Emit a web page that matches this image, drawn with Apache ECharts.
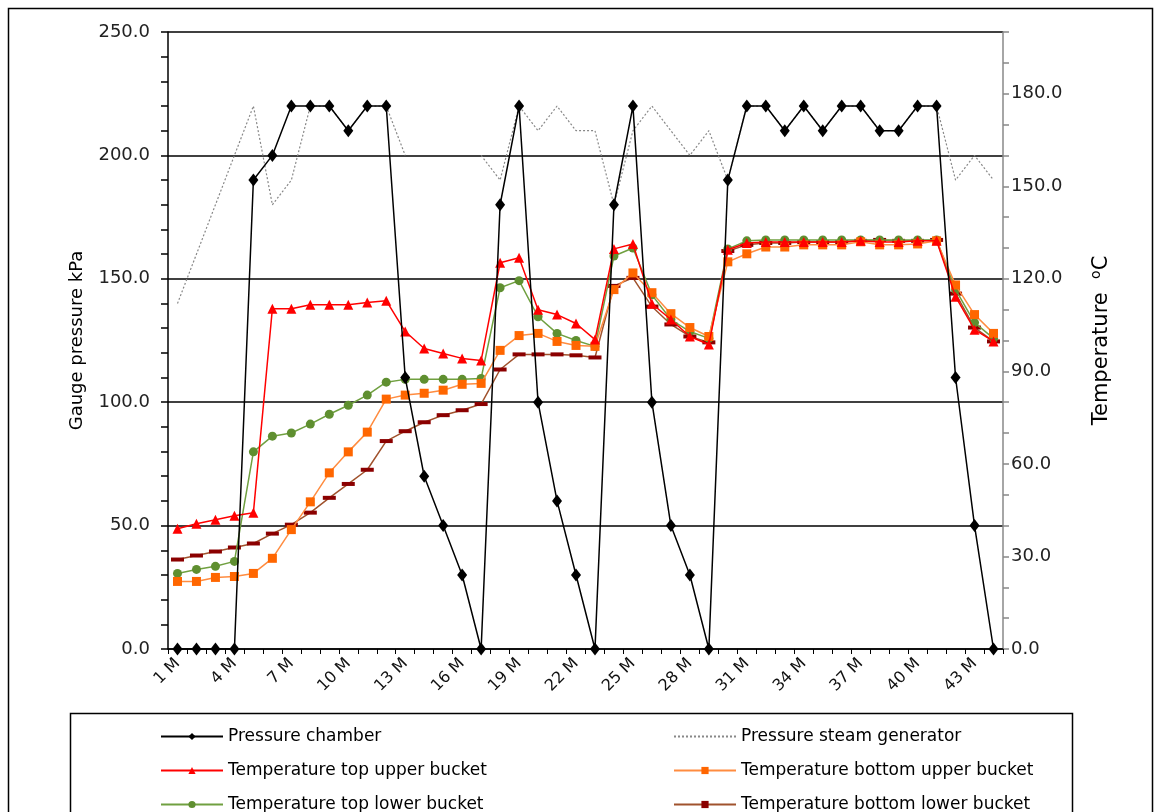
<!DOCTYPE html>
<html>
<head>
<meta charset="utf-8">
<script src="https://cdn.jsdelivr.net/npm/echarts@6/dist/echarts.min.js"></script>
<style>html,body{margin:0;padding:0;background:#fff;}#c{width:1161px;height:812px;}</style>
</head>
<body>
<div id="c"></div>
<script>
var categories = [];
for (var i = 1; i <= 44; i++) categories.push(i + ' M');

var pressureChamber = [0,0,0,0,190,200,220,220,220,210,220,220,110,70,50,30,0,180,220,100,60,30,0,180,220,100,50,30,0,190,220,220,210,220,210,220,220,210,210,220,220,110,50,0];
var pressureSteam = [140,160,180,200,220,180,190,220,220,210,220,220,200,null,null,null,200,190,220,210,220,210,210,180,210,220,210,200,210,190,220,220,210,220,210,220,220,210,210,220,220,190,200,190];
var tempTopUpper = [39.0,40.6,41.9,43.2,44.2,110.3,110.3,111.6,111.6,111.6,112.3,112.9,102.9,97.4,95.8,94.2,93.5,125.2,126.8,110.0,108.4,105.5,100.3,129.7,131.3,111.9,106.8,101.3,98.7,129.4,131.6,131.9,131.9,131.9,131.9,131.9,132.3,131.9,131.9,132.3,132.3,114.2,103.5,99.7];
var tempBottomUpper = [21.9,21.9,23.2,23.5,24.5,29.4,38.7,47.7,57.1,63.9,70.3,81.0,82.3,82.9,83.9,85.8,86.1,96.8,101.6,102.3,99.7,98.4,98.1,116.5,121.9,115.5,108.7,104.2,101.3,125.5,128.1,130.3,130.3,131.0,131.0,131.0,132.0,131.0,131.0,131.3,132.3,118.0,108.4,102.3];
var tempTopLower = [24.5,25.8,26.8,28.4,63.9,69.0,70.0,72.9,76.1,79.0,82.3,86.5,87.4,87.4,87.4,87.4,87.7,117.1,119.4,107.7,102.3,100.0,98.1,127.4,130.0,114.8,106.8,102.9,100.7,129.7,132.3,132.6,132.6,132.6,132.6,132.6,132.6,132.6,132.6,132.6,132.6,116.5,105.8,100.7];
var tempBottomLower = [29.0,30.3,31.6,32.9,34.2,37.4,40.3,44.2,49.0,53.5,58.1,67.4,70.6,73.5,75.8,77.4,79.4,90.6,95.5,95.5,95.5,95.2,94.5,117.7,120.3,111.0,105.2,101.3,99.4,129.0,131.0,131.6,131.6,131.9,131.9,131.9,132.3,132.6,132.3,132.3,132.6,115.2,104.2,99.7];

var legendCol1 = ['Pressure chamber', 'Temperature top upper bucket', 'Temperature top lower bucket'];
var legendCol2 = ['Pressure steam generator', 'Temperature bottom upper bucket', 'Temperature bottom lower bucket'];

var FONT = '"Liberation Sans", Arial, sans-serif';
var WIDE = '"DejaVu Sans", "Liberation Sans", sans-serif';
var chart = echarts.init(document.getElementById('c'));

function tempSeries(name, data, symbol, size, lineColor, markColor, z) {
  return {
    name: name, type: 'line', yAxisIndex: 1, data: data,
    symbol: symbol, symbolSize: size, showAllSymbol: true,
    lineStyle: {color: lineColor, width: 1.5},
    itemStyle: {color: markColor, borderWidth: 0},
    z: z, animation: false
  };
}

var rowCenters = [733, 767, 801];
var legends = [];
function addLegend(names, left) {
  names.forEach(function (n, k) {
    var item = {name: n};
    if (n === 'Pressure steam generator') item.itemStyle = {opacity: 0};
    legends.push({
      data: [item], left: left, top: rowCenters[k] - 10,
      itemWidth: 62, itemHeight: 9, itemGap: 6,
      textStyle: {fontSize: 17, color: '#000', fontFamily: WIDE},
      selectedMode: false
    });
  });
}
addLegend(legendCol1, 155);
addLegend(legendCol2, 668);

chart.setOption({
  animation: false,
  backgroundColor: '#fff',
  textStyle: {fontFamily: FONT},
  grid: {left: 168, right: 158, top: 32, bottom: 163},
  legend: legends,
  xAxis: {
    type: 'category', data: categories, boundaryGap: true,
    axisLine: {lineStyle: {color: '#000', width: 1.5}},
    axisTick: {show: true, interval: 0, length: 5, lineStyle: {color: '#000'}},
    axisLabel: {interval: 2, rotate: 45, fontSize: 16, color: '#111', fontFamily: WIDE, margin: 12},
    splitLine: {show: false}
  },
  yAxis: [
    {
      type: 'value', min: 0, max: 250, interval: 50,
      name: 'Gauge pressure kPa', nameLocation: 'middle', nameGap: 82,
      nameTextStyle: {fontSize: 18, color: '#000', fontFamily: WIDE},
      axisLine: {show: true, lineStyle: {color: '#000', width: 1.5}},
      axisTick: {show: true, length: 7, lineStyle: {color: '#000', width: 1.5}},
      minorTick: {show: true, splitNumber: 5, length: 7, lineStyle: {color: '#000', width: 1.5}},
      axisLabel: {fontSize: 18, color: '#222', fontFamily: WIDE, margin: 18, formatter: function (v) { return v.toFixed(1); }},
      splitLine: {show: true, lineStyle: {color: '#000', width: 1.5}}
    },
    {
      type: 'value', min: 0, max: 200, interval: 30,
      name: 'Temperature  {s|o}C', nameLocation: 'middle', nameGap: 86,
      nameTextStyle: {fontSize: 21, color: '#000', fontFamily: WIDE, rich: {s: {fontSize: 14, fontFamily: WIDE, color: '#000', padding: [0, 0, 12, 0]}}},
      axisLine: {show: true, lineStyle: {color: '#888', width: 1.5}},
      axisTick: {show: true, length: 6, lineStyle: {color: '#888', width: 1.5}},
      minorTick: {show: true, splitNumber: 3, length: 6, lineStyle: {color: '#888', width: 1.5}},
      axisLabel: {fontSize: 18, color: '#222', fontFamily: WIDE, margin: 8, showMaxLabel: false, formatter: function (v) { return v.toFixed(1); }},
      splitLine: {show: false}
    }
  ],
  series: [
    tempSeries('Temperature bottom lower bucket', tempBottomLower, 'rect', [13, 4], '#a0522d', '#8b0000', 2),
    tempSeries('Temperature top lower bucket', tempTopLower, 'circle', 9, '#70a040', '#5f8f30', 3),
    tempSeries('Temperature bottom upper bucket', tempBottomUpper, 'rect', 9, '#ff8c40', '#ff6600', 4),
    tempSeries('Temperature top upper bucket', tempTopUpper, 'triangle', 10, '#ff0000', '#ff0000', 5),
    {
      name: 'Pressure steam generator', type: 'line', yAxisIndex: 0, data: pressureSteam,
      symbol: 'none', connectNulls: false,
      lineStyle: {color: '#888', width: 1.2, type: [2, 2]},
      itemStyle: {color: '#888'}, z: 6
    },
    {
      name: 'Pressure chamber', type: 'line', yAxisIndex: 0, data: pressureChamber,
      symbol: 'diamond', symbolSize: [10, 13], showAllSymbol: true,
      lineStyle: {color: '#000', width: 1.5},
      itemStyle: {color: '#000', borderWidth: 0}, z: 7
    }
  ],
  graphic: [
    {type: 'rect', shape: {x: 8.5, y: 8.5, width: 1144, height: 820}, style: {fill: null, stroke: '#000', lineWidth: 1.5}, silent: true, z: -1},
    {type: 'rect', shape: {x: 70.5, y: 713.5, width: 1002, height: 120}, style: {fill: null, stroke: '#000', lineWidth: 1.5}, silent: true, z: -1}
  ]
});
</script>
</body>
</html>
